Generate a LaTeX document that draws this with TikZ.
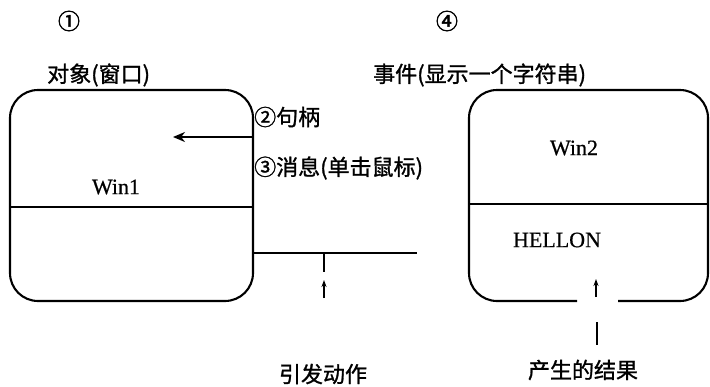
\documentclass[tikz,border=0pt]{standalone}
\usepackage{fontspec}
\setmainfont{Liberation Serif}
\newfontfamily\cjk[FakeBold=1.2]{Noto Sans CJK SC}
\newfontfamily\cjknum[FakeBold=2]{Noto Sans CJK SC}
\newfontfamily\winfont[FakeBold=0.6]{Liberation Serif}
\usetikzlibrary{arrows.meta}
\begin{document}
\begin{tikzpicture}[x=1pt,y=-1pt,
  boxline/.style={line width=2.1pt, line join=round},
  cjklabel/.style={inner sep=0pt, font=\cjk\fontsize{22}{24}\selectfont},
  numlabel/.style={inner sep=0pt, font=\cjknum\fontsize{22}{24}\selectfont},
  wintext/.style={inner sep=0pt, font=\winfont\fontsize{22}{24}\selectfont},
  bigarrow/.style={line width=2.1pt, -{Stealth[length=12pt,width=10pt]}},
  smallarrow/.style={line width=1.4pt, -{Stealth[length=7pt,width=5pt]}},
  thinline/.style={line width=1.4pt}]
\useasboundingbox (0,0) rectangle (710,386);

% left box (object window)
\draw[boxline, rounded corners=28pt] (10,90) rectangle (253,301);
\draw[boxline] (10,207) -- (253,207);
\coordinate (lhandle) at (252,137);
\coordinate (ltip) at (173,137);
\draw[bigarrow] (lhandle) -- (ltip);
\node[wintext] (win1) at (116,187) {Win1};

% trigger line
\coordinate (tstart) at (253,253);
\coordinate (tend) at (417,253);
\draw[boxline] (tstart) -- (tend);
\coordinate (tick1) at (324,253);
\coordinate (tick2) at (324,272);
\draw[line width=2.1pt] (tick1) -- (tick2);
\coordinate (ta1) at (324,298);
\coordinate (ta2) at (324,280);
\draw[smallarrow] (ta1) -- (ta2);

% right box (event)
\draw[boxline, rounded corners=28pt] (577,301) -- (469,301) -- (469,90) -- (708,90) -- (708,301) -- (618,301);
\draw[boxline] (469,204) -- (708,204);
\node[wintext] (win2) at (574,148) {Win2};
\node[wintext] (hello) at (557,240) {HELLON};
\coordinate (ra1) at (596,297);
\coordinate (ra2) at (596,279);
\draw[smallarrow] (ra1) -- (ra2);
\coordinate (rl1) at (597,322);
\coordinate (rl2) at (597,345);
\draw[thinline] (rl1) -- (rl2);

% labels
\node[numlabel] (n1) at (69,21) {①};
\node[numlabel] (n4) at (447,21) {④};
\node[cjklabel, anchor=west] (obj) at (47,75) {对象(窗口)};
\node[cjklabel, anchor=west] (evt) at (373,75) {事件(显示一个字符串)};
\node[cjklabel, anchor=west] (hnd) at (254,117) {②句柄};
\node[cjklabel, anchor=west] (msg) at (254,168) {③消息(单击鼠标)};
\node[cjklabel] (act) at (323,374) {引发动作};
\node[cjklabel] (res) at (583,370) {产生的结果};
\end{tikzpicture}
\end{document}
